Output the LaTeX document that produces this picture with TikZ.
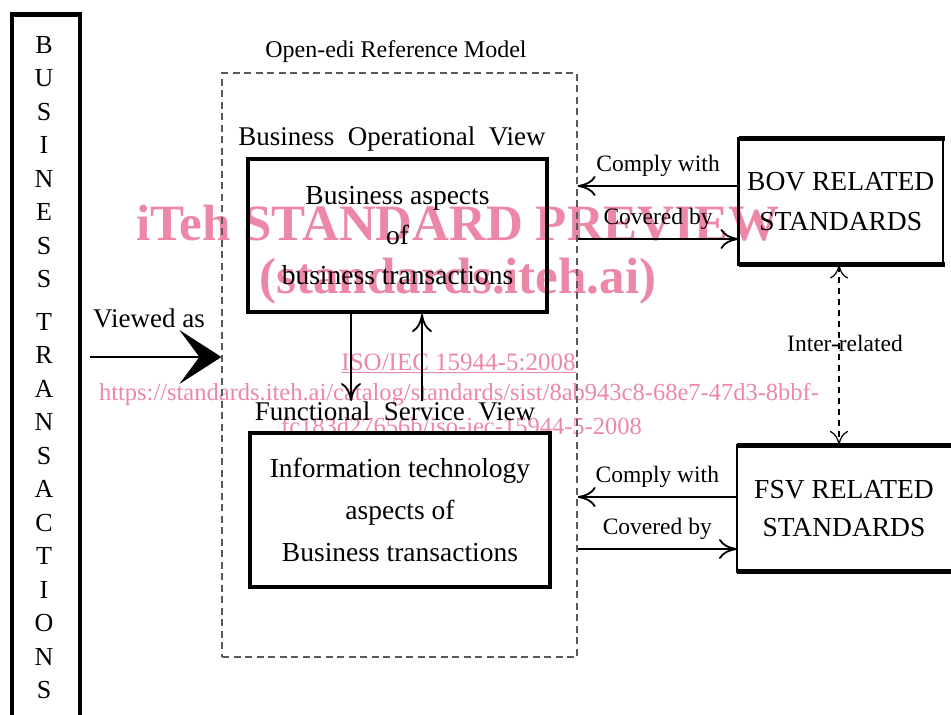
\documentclass[tikz,border=0pt]{standalone}
\usepackage{fontspec}
\setmainfont{Liberation Serif}
\usepackage{tikz}
\usepackage{xcolor}
\usetikzlibrary{arrows.meta,positioning}
\definecolor{wmpink}{RGB}{236,136,166}
\definecolor{dashgray}{RGB}{90,90,90}
\tikzset{
  viewbox/.style={draw, line width=4pt, inner sep=0pt, align=center, font=\fontsize{27.5}{40}\selectfont},
  stdbox/.style={draw, line width=2.5pt, inner sep=0pt, outer sep=0pt, align=center, font=\fontsize{27.5}{40}\selectfont},
  heading/.style={font=\fontsize{27}{30}\selectfont, inner sep=0pt, anchor=base},
  lbl/.style={font=\fontsize{23.5}{26}\selectfont, inner sep=0pt},
  flow/.style={line width=1.8pt, -{Computer Modern Rightarrow[length=18pt,width=20pt]}},
  relation/.style={line width=1.2pt, dash pattern=on 6pt off 5pt,
    {Computer Modern Rightarrow[length=14pt,width=18pt]}-{Computer Modern Rightarrow[length=14pt,width=18pt]}},
  wmark/.style={text=wmpink, inner sep=0pt, anchor=base},
}

\begin{document}
\begin{tikzpicture}[x=1pt, y=-1pt]
  \useasboundingbox (0,0) rectangle (951,715);

  % watermark
  \node[wmark, font=\fontsize{51}{55}\selectfont\bfseries] (wm1) at (458,240) {iTeh STANDARD PREVIEW};
  \node[wmark, font=\fontsize{51}{55}\selectfont\bfseries] (wm2) at (458,293) {(standards.iteh.ai)};
  \node[wmark, font=\fontsize{25}{28}\selectfont] (wm3) at (458.5,370) {\underline{ISO/IEC 15944-5:2008}};
  \node[wmark, font=\fontsize{24.5}{28}\selectfont] (wm4) at (459,400)
    {https://standards.iteh.ai/catalog/standards/sist/8ab943c8-68e7-47d3-8bbf-};
  \node[wmark, font=\fontsize{24.5}{28}\selectfont] (wm5) at (461.5,434) {fc183d27656b/iso-iec-15944-5-2008};

  % business transactions column
  \draw[line width=4pt] (11.5,715) -- (11.5,14.5) -- (79.5,14.5) -- (79.5,715);
  \draw[line width=5pt] (9.5,14.5) -- (81.5,14.5);
  \node[font=\fontsize{26}{33.5}\selectfont, align=center, inner sep=0pt, anchor=north] (bt) at (44,36)
    {B\\U\\S\\I\\N\\E\\S\\S\\[9pt]T\\R\\A\\N\\S\\A\\C\\T\\I\\O\\N\\S};

  % open-edi reference model
  \node[draw=dashgray, dash pattern=on 7pt off 4.5pt, line width=1.2pt, minimum width=355pt,
    minimum height=584pt, inner sep=0pt] (oedi) at (399.5,365) {};
  \node[lbl, font=\fontsize{24}{26}\selectfont, anchor=base] (oedit) at (396,57) {Open-edi Reference Model};

  \node[heading] (bovh) at (392,145) {Business\ \ Operational\ \ View};
  \node[viewbox, minimum width=299pt, minimum height=153pt] (bov) at (397.5,235.5)
    {Business aspects\\of\\business transactions};
  \node[heading] (fsvh) at (395,420) {Functional\ \ Service\ \ View};
  \node[viewbox, minimum width=300pt, minimum height=154pt, font=\fontsize{27.5}{42}\selectfont] (fsv) at (400,510)
    {Information technology\\aspects of\\Business transactions};

  \draw[flow] ([xshift=-46.5pt]bov.south) -- ([xshift=-46.5pt]bov.south |- fsvh.north);
  \draw[flow] ([xshift=24.5pt]bov.south |- fsvh.north) -- ([xshift=24.5pt]bov.south);

  % viewed as
  \coordinate (vs) at (90,357);
  \draw[line width=1.3pt, -{Stealth[length=42pt,width=54pt,inset=20pt]}] (vs) -- (vs -| oedi.west);
  \node[heading] (vat) at (149,327) {Viewed as};

  % related standards
  \node[stdbox, minimum width=204.5pt, minimum height=126pt] (bovstd) at (840.75,201.5) {BOV RELATED\\STANDARDS};
  \draw[line width=5pt] (bovstd.north west) -- ([xshift=2pt]bovstd.north east)
    (bovstd.south west) -- ([xshift=2pt]bovstd.south east);
  \node[stdbox, draw=none, minimum width=214pt, minimum height=126.5pt, font=\fontsize{27.5}{38}\selectfont]
    (fsvstd) at (844,508.25) {FSV RELATED\\STANDARDS};
  \draw[line width=2.5pt] (fsvstd.north east) -- (fsvstd.north west) -- (fsvstd.south west) -- (fsvstd.south east);
  \draw[line width=5pt] (fsvstd.north west) -- (fsvstd.north east) (fsvstd.south west) -- (fsvstd.south east);

  \draw[flow] ([yshift=15.5pt]bovstd.west) -- ([yshift=15.5pt]bovstd.west -| oedi.east)
    node[lbl, midway, above=8.5pt] (cw1) {Comply with};
  \draw[flow] ([yshift=-37.5pt]bovstd.west -| oedi.east) -- ([yshift=-37.5pt]bovstd.west)
    node[lbl, midway, above=8.5pt] (cb1) {Covered by};
  \draw[flow] ([yshift=11.25pt]fsvstd.west) -- ([yshift=11.25pt]fsvstd.west -| oedi.east)
    node[lbl, midway, above=8.5pt] (cw2) {Comply with};
  \draw[flow] ([yshift=-40.75pt]fsvstd.west -| oedi.east) -- ([yshift=-40.75pt]fsvstd.west)
    node[lbl, midway, above=8.5pt] (cb2) {Covered by};

  \draw[relation] ([xshift=-1.75pt]bovstd.south) -- ([xshift=-1.75pt]bovstd.south |- fsvstd.north)
    node[lbl, midway, anchor=base, xshift=6pt, yshift=3.5pt] (irl) {Inter-related};
\end{tikzpicture}
\end{document}
